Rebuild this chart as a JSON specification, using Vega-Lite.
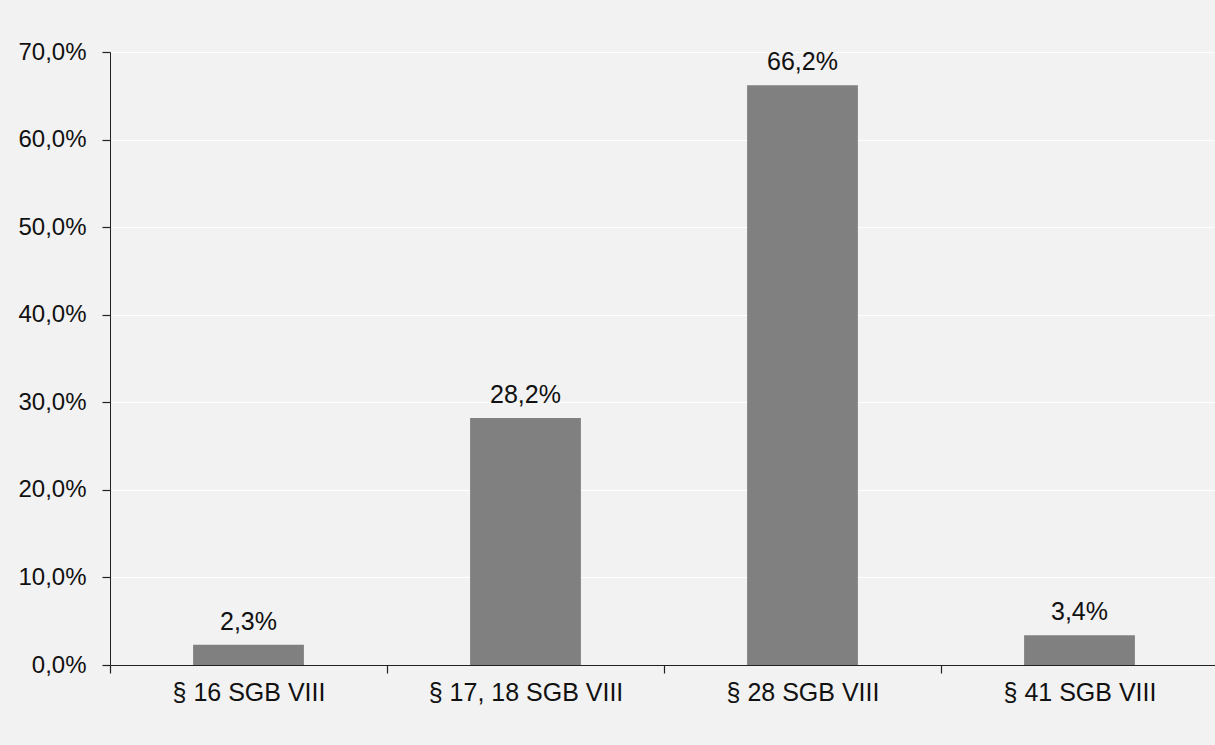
{
  "$schema": "https://vega.github.io/schema/vega-lite/v6.json",
  "width": 1108,
  "height": 613,
  "autosize": {"type": "none"},
  "padding": {"left": 110, "top": 52, "right": 0, "bottom": 80},
  "background": "#f2f2f2",
  "config": {
    "view": {"stroke": null},
    "locale": {"number": {"decimal": ",", "thousands": ".", "grouping": [3], "currency": ["", " €"]}},
    "font": "Liberation Sans"
  },
  "data": {"values": [
    {"kategorie": "§ 16 SGB VIII", "anteil": 0.023},
    {"kategorie": "§ 17, 18 SGB VIII", "anteil": 0.282},
    {"kategorie": "§ 28 SGB VIII", "anteil": 0.662},
    {"kategorie": "§ 41 SGB VIII", "anteil": 0.034}
  ]},
  "encoding": {
    "x": {
      "field": "kategorie", "type": "nominal", "sort": null,
      "scale": {"paddingInner": 0, "paddingOuter": 0},
      "axis": {
        "title": null, "labelAngle": 0, "ticks": true, "tickBand": "extent",
        "domainColor": "#222222", "tickColor": "#222222", "tickSize": 8, "tickWidth": 1.2,
        "labelFontSize": 25, "labelColor": "#111111", "labelPadding": 7, "labelLimit": 0,
        "labelFont": "Liberation Sans", "labelOverlap": false
      }
    },
    "y": {
      "field": "anteil", "type": "quantitative",
      "scale": {"domain": [0, 0.7], "nice": false},
      "axis": {
        "title": null, "format": ".1%", "values": [0, 0.1, 0.2, 0.3, 0.4, 0.5, 0.6, 0.7],
        "grid": true, "gridColor": "#ffffff", "gridWidth": 1, "ticks": true,
        "domainColor": "#222222", "tickColor": "#222222", "tickSize": 8, "tickWidth": 1.2,
        "labelFontSize": 24, "labelColor": "#111111", "labelPadding": 16,
        "labelFont": "Liberation Sans", "labelOverlap": false, "labelFlush": false, "labelBound": false
      }
    }
  },
  "layer": [
    {"mark": {"type": "bar", "color": "#808080", "width": {"band": 0.4}}},
    {
      "mark": {"type": "text", "baseline": "alphabetic", "dy": -15, "fontSize": 25, "color": "#111111", "font": "Liberation Sans"},
      "encoding": {"text": {"field": "anteil", "type": "quantitative", "format": ".1%"}}
    }
  ]
}
